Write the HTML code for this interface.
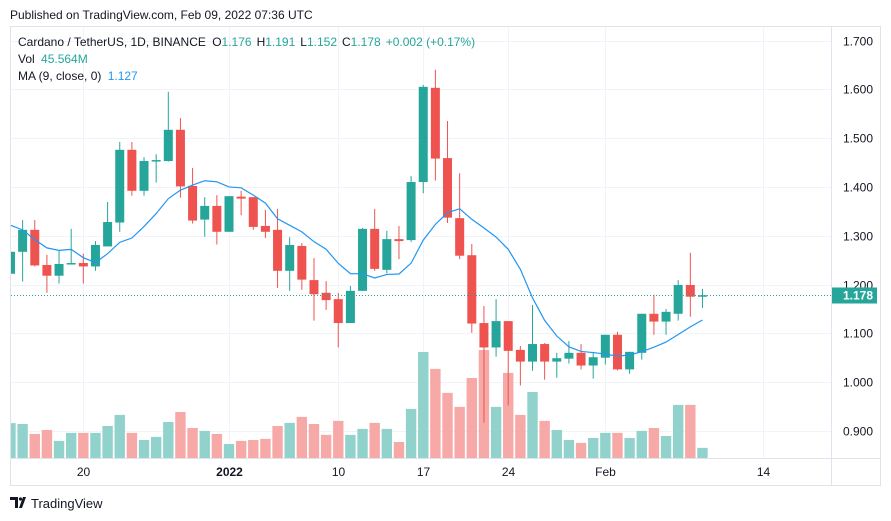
<!DOCTYPE html>
<html><head><meta charset="utf-8">
<style>
html,body{margin:0;padding:0;background:#fff;width:891px;height:521px;overflow:hidden;font-family:"Liberation Sans",sans-serif;}
svg{position:absolute;left:0;top:0;}
</style></head>
<body>
<svg id="chart" width="891" height="521" xmlns="http://www.w3.org/2000/svg">
  <text x="10" y="19" font-size="12" fill="#131722">Published on TradingView.com, Feb 09, 2022 07:36 UTC</text>
  <rect x="10.5" y="26.5" width="870" height="459" fill="#fff" stroke="#e0e3eb"/>
  <g id="grid"></g>
  <g id="vol"></g>
  <g id="candles"></g>
  <g id="ma"></g>
  <line x1="831.5" y1="26" x2="831.5" y2="485" stroke="#e0e3eb"/>
  <line x1="10" y1="458.5" x2="880" y2="458.5" stroke="#e0e3eb"/>
  <g id="yaxis"></g>
  <g id="xaxis"></g>
  <g font-size="12">
    <text x="18" y="46" fill="#131722">Cardano / TetherUS, 1D, BINANCE <tspan dx="3">O</tspan><tspan fill="#26a69a">1.176</tspan><tspan dx="5">H</tspan><tspan fill="#26a69a">1.191</tspan><tspan dx="5">L</tspan><tspan fill="#26a69a">1.152</tspan><tspan dx="5">C</tspan><tspan fill="#26a69a">1.178</tspan><tspan dx="5" fill="#26a69a">+0.002 (+0.17%)</tspan></text>
    <text x="18" y="63" fill="#131722">Vol <tspan dx="3" fill="#26a69a">45.564M</tspan></text>
    <text x="18" y="80" fill="#131722">MA (9, close, 0) <tspan dx="3" fill="#2196f3">1.127</tspan></text>
  </g>
  <g>
    <path d="M10 497h8v11h-3v-8h-5z M19 508l4-11h3l-4 11z" fill="#131722"/>
    <circle cx="20.5" cy="499" r="1.6" fill="#131722"/>
    <text x="31" y="508" font-size="13" fill="#131722">TradingView</text>
  </g>
</svg>
<script>
const opens  =[1.222,1.267,1.312,1.240,1.218,1.241,1.244,1.237,1.278,1.327,1.476,1.392,1.452,1.453,1.517,1.402,1.333,1.361,1.308,1.380,1.379,1.320,1.312,1.228,1.279,1.209,1.183,1.170,1.121,1.187,1.314,1.230,1.293,1.291,1.410,1.603,1.459,1.336,1.260,1.121,1.071,1.125,1.066,1.042,1.078,1.042,1.048,1.060,1.034,1.050,1.097,1.026,1.060,1.140,1.124,1.140,1.199,1.176];
const highs  =[1.284,1.332,1.332,1.261,1.269,1.314,1.263,1.289,1.369,1.492,1.492,1.461,1.467,1.595,1.541,1.439,1.379,1.383,1.381,1.392,1.379,1.353,1.355,1.297,1.285,1.254,1.207,1.183,1.197,1.316,1.355,1.310,1.320,1.422,1.609,1.640,1.535,1.428,1.283,1.156,1.170,1.125,1.074,1.158,1.080,1.060,1.084,1.078,1.062,1.097,1.103,1.062,1.140,1.179,1.150,1.209,1.265,1.191];
const lows   =[1.200,1.206,1.237,1.183,1.202,1.241,1.202,1.228,1.278,1.308,1.382,1.382,1.409,1.452,1.378,1.325,1.298,1.282,1.308,1.342,1.312,1.295,1.193,1.187,1.189,1.126,1.148,1.071,1.121,1.187,1.228,1.223,1.252,1.287,1.387,1.413,1.326,1.252,1.101,0.917,1.052,0.952,0.993,1.023,1.005,1.009,1.038,1.026,1.007,1.036,1.024,1.017,1.046,1.097,1.097,1.126,1.134,1.152];
const closes =[1.267,1.312,1.239,1.218,1.242,1.244,1.237,1.281,1.328,1.476,1.392,1.453,1.455,1.517,1.401,1.331,1.361,1.308,1.381,1.376,1.318,1.308,1.228,1.281,1.210,1.180,1.168,1.121,1.187,1.314,1.232,1.293,1.289,1.410,1.605,1.458,1.337,1.259,1.120,1.071,1.125,1.064,1.042,1.078,1.042,1.049,1.060,1.034,1.051,1.097,1.026,1.062,1.140,1.124,1.144,1.199,1.175,1.178];
const volumes=[157,153,108,126,77,113,113,113,144,194,113,81,95,162,207,135,122,108,63,77,81,86,144,158,185,153,104,167,104,131,158,131,72,221,477,401,293,230,360,486,230,383,194,297,167,126,81,68,90,113,113,90,122,135,99,239,239,45.6];
const maLead =[1.321,1.312,1.292,1.275,1.270,1.272,1.255,1.245];
const priceTicks=[1.700,1.600,1.500,1.400,1.300,1.200,1.100,1.000,0.900];
const timeTicks=[{d:-12,t:"20"},{d:0,t:"2022",b:true},{d:9,t:"10"},{d:16,t:"17"},{d:23,t:"24"},{d:31,t:"Feb"},{d:44,t:"14"}];
const startDay=-18;

const NS="http://www.w3.org/2000/svg";
function el(tag,attrs,parent){const e=document.createElementNS(NS,tag);for(const k in attrs)e.setAttribute(k,attrs[k]);parent.appendChild(e);return e;}
const yP=p=>89.3+(1.6-p)*488;
const xD=d=>229+12.14*d;
const xI=i=>xD(startDay+i);
const yV=v=>458-v/4.5;
const G=document.getElementById('grid'),V=document.getElementById('vol'),C=document.getElementById('candles'),M=document.getElementById('ma'),YA=document.getElementById('yaxis'),XA=document.getElementById('xaxis');

priceTicks.forEach(p=>{
  const y=Math.round(yP(p))+0.5;
  const g=el('line',{x1:11,x2:831,y1:y,y2:y,stroke:'#f0f3fa'},G);
  
  
  const t=el('text',{x:843,y:y+4,'font-size':12,fill:'#131722'},YA);
  t.textContent=p.toFixed(3);
  
  
});
timeTicks.forEach(o=>{
  const x=Math.round(xD(o.d))+0.5;
  const g=el('line',{x1:x,x2:x,y1:27,y2:458,stroke:'#f0f3fa'},G);
  
  
  const t=el('text',{x:x,y:476,'font-size':12,fill:'#131722','text-anchor':'middle','font-weight':o.b?'bold':'normal'},XA);
  t.textContent=o.t;
  
  
});
const clipX=v=>Math.max(11,v);
volumes.forEach((v,i)=>{
  const up=closes[i]>=opens[i];
  const x0=clipX(xI(i)-5.2), x1=xI(i)+5.2;
  const r=el('rect',{x:x0,y:yV(v),width:x1-x0,height:458-yV(v),fill:up?'#92d2cc':'#f7a9a7'},V);
  
  
});
opens.forEach((o,i)=>{
  const c=closes[i],up=c>=o,col=up?'#26a69a':'#ef5350',x=xI(i);
  const g=el('g',{},C);
  
  
  if(x>=11) el('line',{x1:x,x2:x,y1:yP(highs[i]),y2:yP(lows[i]),stroke:col,'stroke-width':1},g);
  const top=yP(Math.max(o,c)),bot=yP(Math.min(o,c));
  const x0=clipX(x-4.5),x1=x+4.5;
  el('rect',{x:x0,y:top,width:x1-x0,height:Math.max(1.5,bot-top),fill:col},g);
});
// MA(9)
const ma=closes.map((c,i)=>{
  if(i<8) return maLead[i];
  let s=0;for(let k=i-8;k<=i;k++)s+=closes[k];return s/9;
});
const pts=ma.map((m,i)=>`${Math.max(11,xI(i))},${yP(m)}`).join(' ');
const pl=el('polyline',{points:pts,fill:'none',stroke:'#2196f3','stroke-width':1.2},M);


// last price line and label
const last=closes[closes.length-1],ly=Math.round(yP(last))+0.5;
const dl=el('line',{x1:11,x2:831,y1:ly,y2:ly,stroke:'#26a69a','stroke-dasharray':'1 2'},M);


const lb=el('rect',{x:832,y:ly-8,width:45,height:16,fill:'#26a69a'},YA);


const lt=el('text',{x:843,y:ly+4,'font-size':12,fill:'#fff','font-weight':'bold'},YA);
lt.textContent=last.toFixed(3);


</script>
</body></html>
